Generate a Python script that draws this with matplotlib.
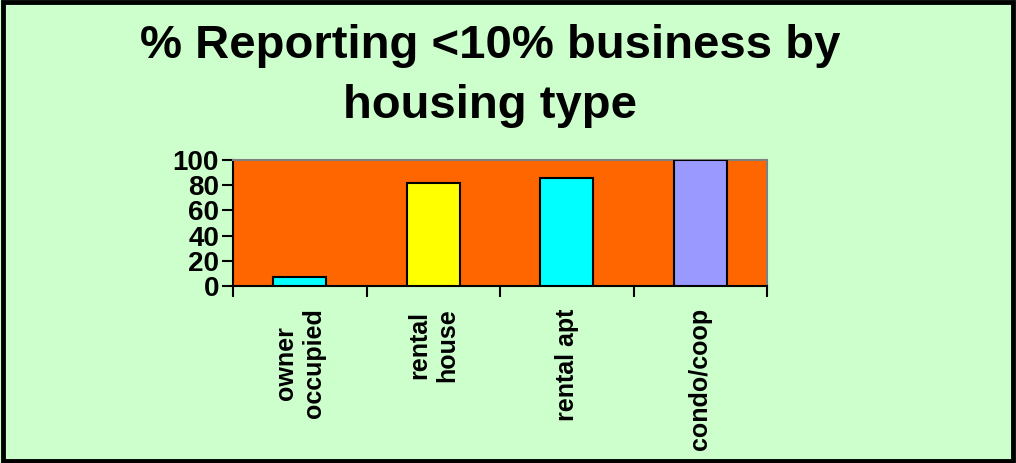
import matplotlib
matplotlib.use("Agg")
import matplotlib.pyplot as plt
from matplotlib.patches import Rectangle

categories = ["owner\noccupied", "rental\nhouse", "rental apt", "condo/coop"]
values = [7, 82, 86, 100]
bar_colors = ["#00FFFF", "#FFFF00", "#00FFFF", "#9999FF"]
yticks = [0, 20, 40, 60, 80, 100]
title_lines = ["% Reporting <10% business by", "housing type"]

plt.rcParams['font.family'] = ['Liberation Sans', 'DejaVu Sans']

W, H = 1016, 463
fig = plt.figure(figsize=(W / 100, H / 100), dpi=100)
fig.patch.set_facecolor("#CCFFCC")

ax = fig.add_axes([233 / W, 1 - 286 / H, (767 - 233) / W, (286 - 160) / H])
ax.set_facecolor("#FF6600")
x = list(range(len(categories)))
ax.bar(x, values, width=0.4, color=bar_colors, edgecolor="black", linewidth=1.5, zorder=3)
ax.set_xlim(-0.5, len(categories) - 0.5)
ax.set_ylim(0, 100)
ax.set_yticks(yticks)
ax.set_yticklabels([str(v) for v in yticks], fontsize=20, fontweight="bold")
ax.set_xticks([i - 0.5 for i in range(len(categories) + 1)])
ax.set_xticklabels([])
ax.set_xticks(x, minor=True)
ax.set_xticklabels(categories, minor=True, rotation=90, fontsize=18, fontweight="bold",
                   va="top", ha="center", multialignment="center", linespacing=1.2)
ax.tick_params(axis="x", which="minor", length=0, pad=16)
ax.tick_params(axis="x", which="major", length=8, width=1.5, direction="out")
ax.tick_params(axis="y", length=8, width=1.5, direction="out", pad=2)
for s in ["left", "bottom"]:
    ax.spines[s].set_color("black")
    ax.spines[s].set_linewidth(1.5)
for s in ["top", "right"]:
    ax.spines[s].set_color("#808080")
    ax.spines[s].set_linewidth(1.5)

for line, base in zip(title_lines, [58, 118]):
    fig.text(490 / W, 1 - base / H, line, ha="center", va="baseline", fontsize=34,
             fontweight="bold")

fig.patches.append(Rectangle((0.003, 0.005), 0.994, 0.99, transform=fig.transFigure,
                             fill=False, edgecolor="black", linewidth=3.5))

fig.savefig("out.png", dpi=100, facecolor=fig.get_facecolor())
